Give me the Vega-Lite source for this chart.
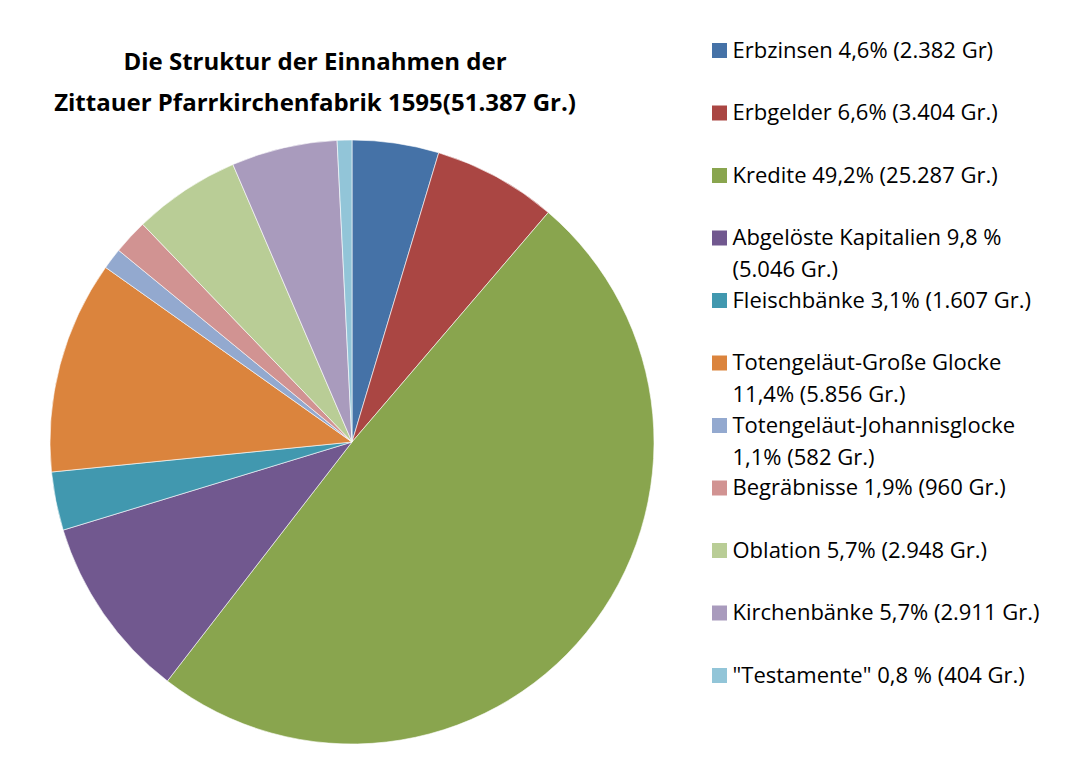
{
  "$schema": "https://vega.github.io/schema/vega-lite/v6.json",
  "width": 704,
  "height": 604,
  "autosize": {"type": "none"},
  "padding": {"left": 0, "top": 140, "right": 365, "bottom": 18},
  "background": "#ffffff",
  "title": {
    "text": ["Die Struktur der Einnahmen der", "Zittauer Pfarrkirchenfabrik 1595(51.387 Gr.)"],
    "font": "Open Sans",
    "fontSize": 24,
    "fontWeight": "bold",
    "lineHeight": 41,
    "color": "#000000",
    "anchor": "middle",
    "frame": "group",
    "dx": -37,
    "dy": 96,
    "offset": 20
  },
  "data": {
    "values": [
      {"name": "Erbzinsen 4,6% (2.382 Gr)", "value": 2382, "order": 1},
      {"name": "Erbgelder 6,6% (3.404 Gr.)", "value": 3404, "order": 2},
      {"name": "Kredite 49,2% (25.287 Gr.)", "value": 25287, "order": 3},
      {"name": "Abgelöste Kapitalien 9,8 %\n(5.046 Gr.)", "value": 5046, "order": 4},
      {"name": "Fleischbänke 3,1% (1.607 Gr.)", "value": 1607, "order": 5},
      {"name": "Totengeläut-Große Glocke\n11,4% (5.856 Gr.)", "value": 5856, "order": 6},
      {"name": "Totengeläut-Johannisglocke\n1,1% (582 Gr.)", "value": 582, "order": 7},
      {"name": "Begräbnisse 1,9% (960 Gr.)", "value": 960, "order": 8},
      {"name": "Oblation 5,7% (2.948 Gr.)", "value": 2948, "order": 9},
      {"name": "Kirchenbänke 5,7% (2.911 Gr.)", "value": 2911, "order": 10},
      {"name": "\"Testamente\" 0,8 % (404 Gr.)", "value": 404, "order": 11}
    ]
  },
  "mark": {"type": "arc", "outerRadius": 302, "stroke": "#ffffff", "strokeWidth": 0.6},
  "encoding": {
    "theta": {"field": "value", "type": "quantitative", "stack": true},
    "order": {"field": "order", "type": "quantitative"},
    "color": {
      "field": "name",
      "type": "nominal",
      "sort": {"field": "order"},
      "scale": {
        "range": ["#4572A7", "#AA4643", "#89A54E", "#71588F", "#4198AF", "#DB843D", "#93A9CF", "#D19392", "#B9CD96", "#A99BBD", "#92C5D8"]
      },
      "legend": {
        "title": null,
        "orient": "none",
        "legendX": 708.5,
        "legendY": -100.5,
        "symbolType": "square",
        "symbolSize": 225,
        "symbolStrokeWidth": 0,
        "symbolOpacity": 1,
        "labelFont": "Open Sans",
        "labelFontSize": 22,
        "labelColor": "#000000",
        "labelLimit": 400,
        "labelOffset": 2,
        "labelBaseline": "middle",
        "rowPadding": 8.5,
        "padding": 0,
        "labelExpr": "length(split(datum.label, '\\n')) > 1 ? split(datum.label, '\\n') : [datum.label, '']",
        "encode": {"labels": {"enter": {"lineHeight": {"value": 32}}, "update": {"lineHeight": {"value": 32}}}}
      }
    }
  },
  "config": {
    "view": {"stroke": null},
    "style": {"guide-label": {"lineHeight": 32}}
  }
}
